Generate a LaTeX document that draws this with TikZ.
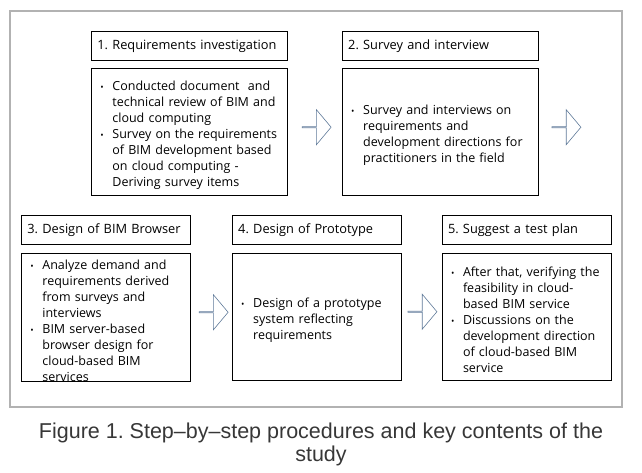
\documentclass[tikz,border=0pt]{standalone}
\usepackage{fontspec}
\setmainfont{Open Sans}
\newfontfamily\capfont{Liberation Sans}
\usetikzlibrary{positioning,shapes.arrows}
\frenchspacing

\definecolor{framegray}{RGB}{178,178,178}
\definecolor{arrowblue}{RGB}{95,122,153}
\definecolor{captiongray}{RGB}{55,55,55}

\newcommand{\bitem}{\par\noindent\hangindent=19pt\hangafter=1\makebox[19pt][l]{\hspace{7pt}{\small\textbullet}}}
\newcommand{\nl}{\newline}
\newcommand{\bend}{\endgraf}
\newcommand{\titlefont}{\fontsize{12.8}{16}\selectfont}
\newcommand{\bodyfont}{\fontsize{12.5}{16}\selectfont}

\begin{document}
\begin{tikzpicture}[x=1pt,y=1pt,
    titlebox/.style={draw,line width=0.8pt,minimum height=29pt,inner xsep=6pt,
                     inner ysep=0pt,text width=#1,align=left,font=\titlefont},
    bodybox/.style={draw,line width=0.8pt,minimum height=127pt,inner xsep=2pt,
                    inner ysep=0pt,text width=#1,align=left,font=\bodyfont},
    flowarrow/.style={single arrow,draw=arrowblue,line width=0.6pt,inner sep=0pt,
                      minimum height=29pt,minimum width=35pt,
                      single arrow head extend=9.5pt,single arrow tip angle=100}]

  \useasboundingbox (0,0) rectangle (642,-472);
  \draw[framegray,line width=2pt] (10,-11) rectangle (622,-407);

  % first row
  \node[titlebox=184pt,anchor=north west] (t1) at (91,-31) {1. Requirements investigation};
  \node[titlebox=184pt] (t2) [right=54pt of t1] {2. Survey and interview};
  \node[bodybox=192pt]  (b1) [below=7pt of t1]
    {\bitem Conducted document~ and\nl technical review of BIM and\nl cloud computing
     \bitem Survey on the requirements\nl of BIM development based\nl on cloud computing -\nl Deriving survey items\bend};
  \node[bodybox=192pt]  (b2) [below=7pt of t2]
    {\bitem Survey and interviews on\nl requirements and\nl development directions for\nl practitioners in the field\bend};

  % second row
  \node[titlebox=157pt,anchor=north west] (t3) at (21,-215) {3. Design of BIM Browser};
  \node[titlebox=157pt] (t4) [right=41pt of t3] {4. Design of Prototype};
  \node[titlebox=157pt] (t5) [right=40pt of t4] {5. Suggest a test plan};
  \node[bodybox=165pt]  (b3) [below=8pt of t3]
    {\bitem Analyze demand and\nl requirements derived\nl from surveys and\nl interviews
     \bitem BIM server-based\nl browser design for\nl cloud-based BIM\nl services\bend};
  \node[bodybox=165pt]  (b4) [below=8pt of t4]
    {\bitem Design of a prototype\nl system reflecting\nl requirements\bend};
  \node[bodybox=165pt]  (b5) [below=8pt of t5]
    {\bitem After that, verifying the\nl feasibility in cloud-\nl based BIM service
     \bitem Discussions on the\nl development direction\nl of cloud-based BIM\nl service\bend};

  % block arrows between the steps
  \node[flowarrow,right=14pt of b1,yshift=4.5pt] (a1) {};
  \node[flowarrow,right=13pt of b2,yshift=4.5pt] (a2) {};
  \node[flowarrow,right=8pt of b3,yshift=5pt]    (a3) {};
  \node[flowarrow,right=6pt of b4,yshift=5pt]    (a4) {};

  \node[font=\capfont\fontsize{21.5}{23}\selectfont,text=captiongray,align=center]
    (cap) at (321,-444) {Figure 1. Step–by–step procedures and key contents of the\\ study};
\end{tikzpicture}
\end{document}
